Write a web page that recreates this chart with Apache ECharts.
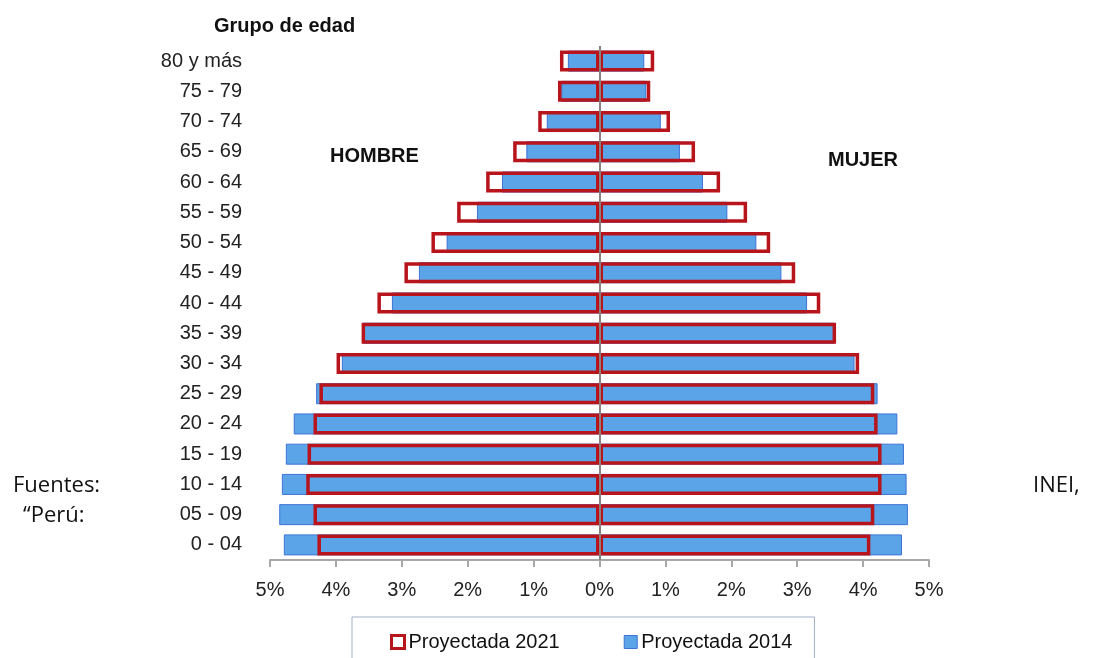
<!DOCTYPE html>
<html>
<head>
<meta charset="utf-8">
<script src="https://cdn.jsdelivr.net/npm/echarts@6/dist/echarts.min.js"></script>
<style>
  html, body { margin: 0; padding: 0; background: #fff; }
  #main { width: 1095px; height: 658px; }
</style>
</head>
<body>
<div id="main"></div>
<script>
// grupos de edad, de abajo hacia arriba
var grupos = ['0 - 04', '05 - 09', '10 - 14', '15 - 19', '20 - 24', '25 - 29', '30 - 34', '35 - 39',
  '40 - 44', '45 - 49', '50 - 54', '55 - 59', '60 - 64', '65 - 69', '70 - 74', '75 - 79', '80 y más'];

// porcentajes
var hombre2014 = [4.79, 4.86, 4.82, 4.76, 4.64, 4.30, 3.91, 3.59, 3.15, 2.74, 2.32, 1.86, 1.48, 1.11, 0.80, 0.58, 0.48];
var hombre2021 = [4.28, 4.34, 4.45, 4.43, 4.34, 4.25, 3.99, 3.61, 3.37, 2.96, 2.55, 2.16, 1.72, 1.31, 0.93, 0.63, 0.60];
var mujer2014 = [4.59, 4.68, 4.66, 4.62, 4.52, 4.22, 3.87, 3.57, 3.15, 2.76, 2.38, 1.94, 1.57, 1.22, 0.93, 0.71, 0.68];
var mujer2021 = [4.11, 4.17, 4.28, 4.28, 4.22, 4.17, 3.94, 3.59, 3.35, 2.97, 2.59, 2.24, 1.83, 1.45, 1.07, 0.77, 0.83];

var ticks = [-5, -4, -3, -2, -1, 0, 1, 2, 3, 4, 5];

var AZUL = '#5ba4e8';
var AZUL_BORDE = '#3f72d6';
var ROJO = '#b8141c';
var FUENTE = '"Liberation Sans", Arial, sans-serif';

function neg(arr) { return arr.map(function (v) { return -v; }); }

var myChart = echarts.init(document.getElementById('main'));

var azulStyle = { color: AZUL, borderColor: AZUL_BORDE, borderWidth: 1 };
var rojoStyle = { color: 'rgba(0,0,0,0)', borderColor: ROJO, borderWidth: 3.5 };

option = {
  animation: false,
  backgroundColor: '#fff',
  title: {
    text: 'Grupo de edad',
    left: 209, top: 11,
    textStyle: { fontFamily: FUENTE, fontSize: 20, fontWeight: 'bold', color: '#111' }
  },
  grid: { left: 270, right: 166, top: 46, bottom: 98 },
  legend: {
    data: [
      { name: 'Proyectada 2021', itemStyle: { color: '#fff', borderColor: ROJO, borderWidth: 3 } },
      { name: 'Proyectada 2014', itemStyle: { color: AZUL, borderColor: AZUL_BORDE, borderWidth: 1 } }
    ],
    left: 352, top: 617,
    padding: [15, 22, 30, 38],
    itemGap: 64,
    itemWidth: 13, itemHeight: 13,
    icon: 'rect',
    itemStyle: { borderWidth: 0 },
    borderColor: '#9fb0c8', borderWidth: 1,
    textStyle: { fontFamily: FUENTE, fontSize: 20, color: '#111', padding: [0, 0, 0, -1] }
  },
  xAxis: {
    type: 'value',
    min: -5, max: 5, interval: 1,
    splitLine: { show: false },
    axisLine: { show: true, lineStyle: { color: '#a8a8a8', width: 2 } },
    axisTick: { show: true, length: 7, lineStyle: { color: '#a8a8a8', width: 2 } },
    axisLabel: {
      margin: 20,
      fontFamily: FUENTE, fontSize: 20, color: '#222',
      formatter: function (v) { return Math.abs(v) + '%'; },
      customValues: ticks
    }
  },
  yAxis: {
    type: 'category',
    data: grupos,
    axisLine: { show: false },
    axisTick: { show: false },
    axisLabel: { margin: 28, fontFamily: FUENTE, fontSize: 20, color: '#222' }
  },
  graphic: [
    { type: 'text', left: 330, top: 146, style: { text: 'HOMBRE', font: 'bold 20px ' + FUENTE, fill: '#111' } },
    { type: 'text', left: 828, top: 150, style: { text: 'MUJER', font: 'bold 20px ' + FUENTE, fill: '#111' } },
    { type: 'text', left: 13, top: 475, style: { text: 'Fuentes:', font: '22px "Open Sans", sans-serif', fill: '#111' } },
    { type: 'text', left: 23, top: 505, style: { text: '\u201cPerú:', font: '22px "Open Sans", sans-serif', fill: '#111' } },
    { type: 'text', left: 1033, top: 475, style: { text: 'INEI,', font: '22px "Open Sans", sans-serif', fill: '#111' } }
  ],
  series: [
    {
      name: 'Proyectada 2014', type: 'bar', stack: 'p2014',
      barWidth: 21, barGap: '-100%',
      itemStyle: azulStyle,
      data: neg(hombre2014)
    },
    {
      name: 'Proyectada 2014', type: 'bar', stack: 'p2014',
      barWidth: 21, barGap: '-100%',
      itemStyle: azulStyle,
      data: mujer2014
    },
    {
      name: 'Proyectada 2021', type: 'bar', stack: 'p2021',
      barWidth: 21, barGap: '-100%',
      itemStyle: rojoStyle,
      data: neg(hombre2021)
    },
    {
      name: 'Proyectada 2021', type: 'bar', stack: 'p2021',
      barWidth: 21, barGap: '-100%',
      itemStyle: rojoStyle,
      data: mujer2021,
      markLine: {
        silent: true,
        symbol: 'none',
        label: { show: false },
        lineStyle: { color: '#8c8080', width: 2, type: 'solid' },
        data: [{ xAxis: 0 }]
      }
    }
  ]
};

myChart.setOption(option);
</script>
</body>
</html>
